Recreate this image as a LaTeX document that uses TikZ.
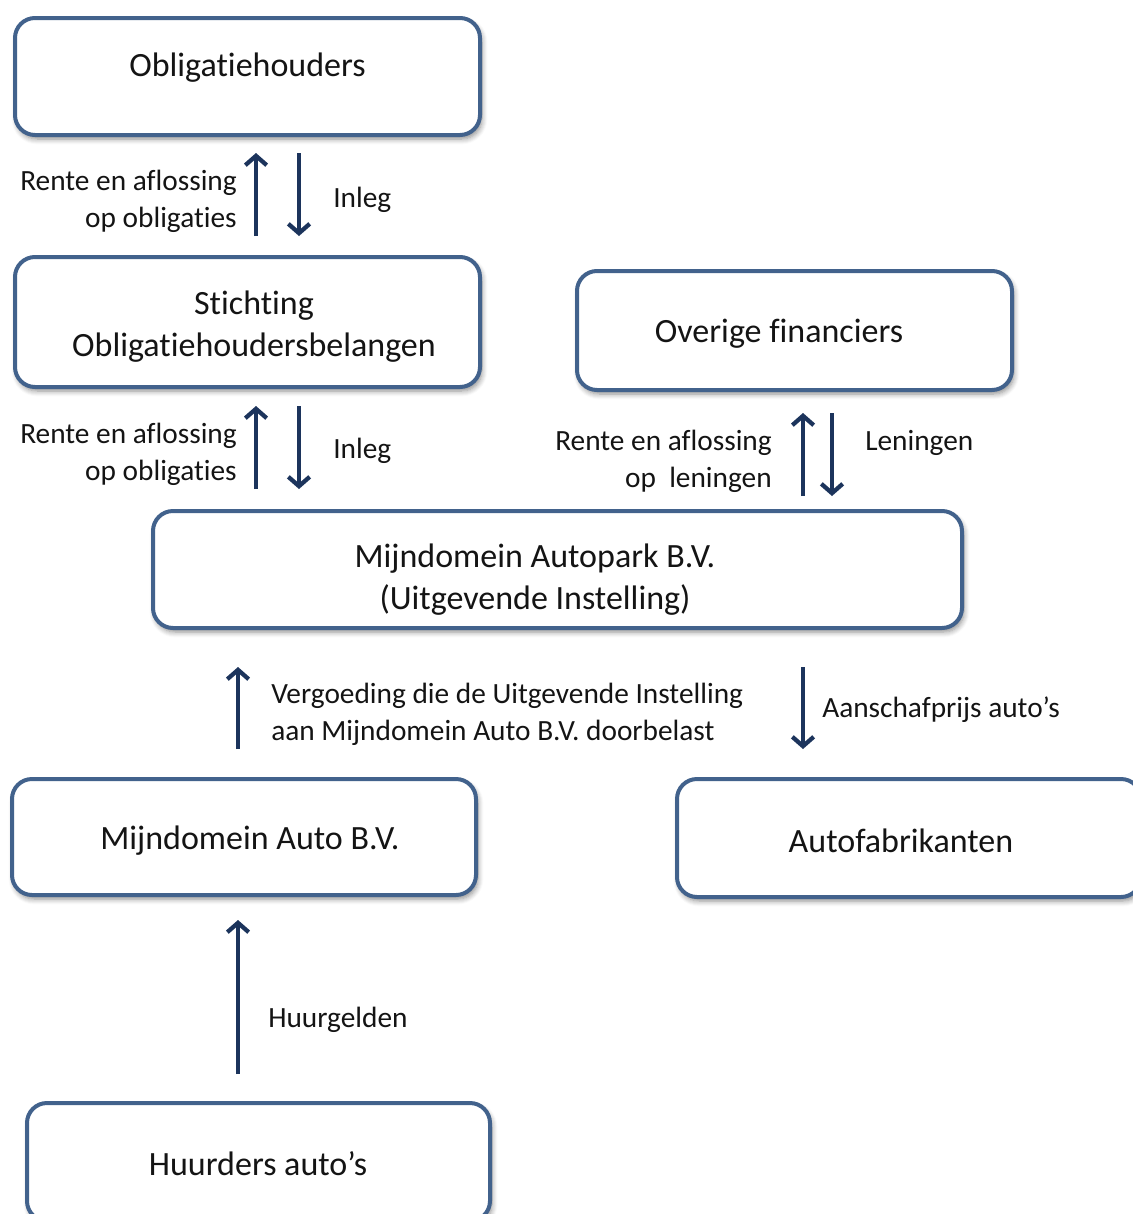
\documentclass[tikz,border=0pt]{standalone}
\usepackage{fontspec}
\setmainfont{Carlito}[Ligatures=NoCommon]
\usetikzlibrary{arrows.meta,shadows.blur}
\definecolor{boxblue}{RGB}{66,98,140}
\definecolor{arrownavy}{RGB}{28,52,92}
\definecolor{txt}{RGB}{20,20,20}
\tikzset{
  boxnode/.style={draw=boxblue, line width=3pt, rounded corners=15pt, fill=white,
    minimum width=#1, inner sep=0pt,
    blur shadow={shadow blur steps=6, shadow xshift=1.5pt, shadow yshift=-3pt, shadow opacity=45, shadow blur radius=4pt}},
  boxtext/.style={text=txt, font=\fontsize{25.5}{31.5}\selectfont, align=center},
  lbl/.style={text=txt, font=\fontsize{22}{27.75}\selectfont, inner sep=0pt},
  flow/.style={draw=arrownavy, line width=3.2pt, -{Straight Barb[length=7pt,width=16pt,line width=3.2pt]}},
}
\begin{document}
\begin{tikzpicture}[x=0.75pt,y=-0.75pt]
\useasboundingbox (0,0) rectangle (1132,1214);
% boxes
\node[boxnode=348.75pt, minimum height=87.75pt] (b1) at (247.5,76.5) {};
\node[boxnode=348.75pt, minimum height=97.5pt] (b2) at (247.5,322) {};
\node[boxnode=326.25pt, minimum height=89.25pt] (b3) at (794.5,330.5) {};
\node[boxnode=606.75pt, minimum height=87.75pt] (b4) at (557.5,569.5) {};
\node[boxnode=348pt, minimum height=87pt] (b5) at (244,837) {};
\node[boxnode=348pt, minimum height=88.5pt] (b6) at (909,838) {};
\node[boxnode=347.25pt, minimum height=88.5pt] (b7) at (258.5,1162) {};
% box texts
\node[boxtext] (t1) at (247.5,68) {Obligatiehouders};
\node[boxtext] (t2) at (254,327) {Stichting\\Obligatiehoudersbelangen};
\node[boxtext] (t3) at (779,334) {Overige financiers};
\node[boxtext] (t4) at (535,580) {Mijndomein Autopark B.V.\\(Uitgevende Instelling)};
\node[boxtext] (t5) at (250,841) {Mijndomein Auto B.V.};
\node[boxtext] (t6) at (901,841) {Autofabrikanten};
\node[boxtext] (t7) at (258,1164) {Huurders auto’s};
% arrow end points
\coordinate (a1s) at (256,236); \coordinate (a1e) at (256,153);
\coordinate (a2s) at (299,153); \coordinate (a2e) at (299,236);
\coordinate (a3s) at (256,489); \coordinate (a3e) at (256,406);
\coordinate (a4s) at (299,406); \coordinate (a4e) at (299,489);
\coordinate (a5s) at (803,496); \coordinate (a5e) at (803,413);
\coordinate (a6s) at (832,413); \coordinate (a6e) at (832,496);
\coordinate (a7s) at (238,749); \coordinate (a7e) at (238,667);
\coordinate (a8s) at (803,667); \coordinate (a8e) at (803,749);
\coordinate (a9s) at (238,1074); \coordinate (a9e) at (238,920);
\draw[flow] (a1s) -- (a1e);
\draw[flow] (a2s) -- (a2e);
\draw[flow] (a3s) -- (a3e);
\draw[flow] (a4s) -- (a4e);
\draw[flow] (a5s) -- (a5e);
\draw[flow] (a6s) -- (a6e);
\draw[flow] (a7s) -- (a7e);
\draw[flow] (a8s) -- (a8e);
\draw[flow] (a9s) -- (a9e);
% labels
\node[lbl, anchor=east, align=right] (l1) at (237,201.5) {Rente en aflossing\\op obligaties};
\node[lbl, anchor=west] (l2) at (333,200) {Inleg};
\node[lbl, anchor=east, align=right] (l3) at (237,454.5) {Rente en aflossing\\op obligaties};
\node[lbl, anchor=west] (l4) at (333,451) {Inleg};
\node[lbl, anchor=east, align=right] (l5) at (772,461.5) {Rente en aflossing\\op\ \ leningen};
\node[lbl, anchor=west] (l6) at (865,443) {Leningen};
\node[lbl, anchor=west, align=left] (l7) at (271,714.5) {Vergoeding die de Uitgevende Instelling\\aan Mijndomein Auto B.V. doorbelast};
\node[lbl, anchor=west] (l8) at (822,710) {Aanschafprijs auto’s};
\node[lbl, anchor=west] (l9) at (268,1020) {Huurgelden};
\end{tikzpicture}
\end{document}
